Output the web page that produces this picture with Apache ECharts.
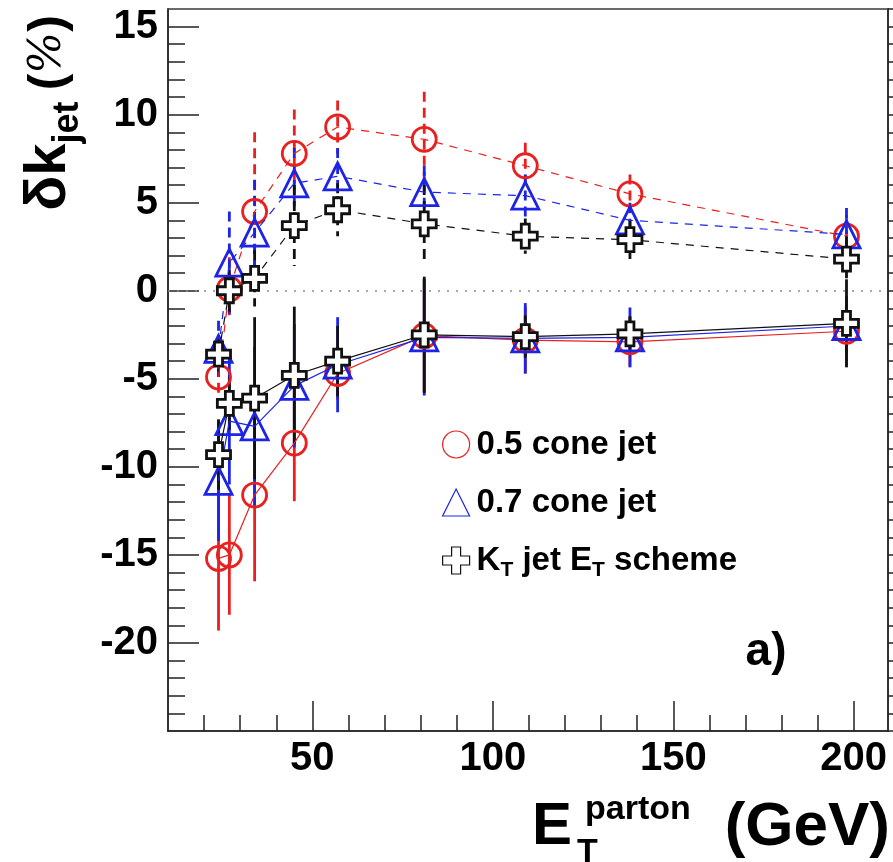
<!DOCTYPE html>
<html>
<head>
<meta charset="utf-8">
<script src="https://cdn.jsdelivr.net/npm/echarts@6/dist/echarts.min.js"></script>
<style>
  html, body { margin: 0; padding: 0; background: #ffffff; }
  #chart { width: 893px; height: 862px; }
</style>
</head>
<body>
<div id="chart"></div>
<script>
// Parton transverse energy of each bin (GeV)
const energies = [24, 27, 34, 45, 57, 81, 109, 138, 198];

// Upper branch (dashed curves), delta k_jet in %
const cone05Upper    = [-4.9, 0.1, 4.5, 7.8, 9.3, 8.6, 7.1, 5.5, 3.1];
const cone05UpperErr = [1.5, 1.8, 4.5, 2.5, 1.5, 2.7, 1.3, 1.1, 1.2];
const cone07Upper    = [-3.3, 1.6, 3.3, 6.1, 6.5, 5.6, 5.4, 4.0, 3.2];
const cone07UpperErr = [1.6, 2.9, 3.0, 2.0, 1.6, 1.5, 1.2, 1.0, 1.5];
const ktUpper        = [-3.6, 0.0, 0.7, 3.7, 4.6, 3.8, 3.1, 2.9, 1.8];
const ktUpperErr     = [1.0, 1.2, 1.6, 2.3, 1.5, 2.2, 1.0, 1.1, 1.3];

// Lower branch (solid curves), delta k_jet in %
const cone05Lower    = [-15.2, -15.0, -11.6, -8.65, -4.7, -2.55, -2.8, -2.9, -2.3];
const cone05LowerErr = [4.1, 3.4, 4.9, 3.3, 1.5, 3.2, 1.9, 1.4, 2.0];
const cone07Lower    = [-10.8, -7.4, -7.7, -5.4, -4.2, -2.65, -2.7, -2.65, -2.0];
const cone07LowerErr = [3.4, 3.6, 4.5, 3.5, 2.7, 3.3, 2.0, 1.7, 1.6];
const ktLower        = [-9.3, -6.4, -6.1, -4.8, -4.0, -2.5, -2.6, -2.45, -1.85];
const ktLowerErr     = [2.0, 1.5, 4.6, 3.9, 2.0, 3.3, 1.2, 1.0, 2.5];

// Axis ticks
const xMajorTicks = [50, 100, 150, 200];
const xMinorTicks = [20, 30, 40, 60, 70, 80, 90, 110, 120, 130, 140, 160, 170, 180, 190];
const yMajorTicks = [-20, -15, -10, -5, 0, 5, 10, 15];
const yMinorTicks = [-24, -23, -22, -21, -19, -18, -17, -16, -14, -13, -12, -11,
                     -9, -8, -7, -6, -4, -3, -2, -1, 1, 2, 3, 4, 6, 7, 8, 9,
                     11, 12, 13, 14];

const FONT = '"Liberation Sans", Arial, Helvetica, sans-serif';
const RED = '#e8201f';
const BLUE = '#1c24e6';
const BLACK = '#111111';
const CROSS = 'path://M-1,-3L1,-3L1,-1L3,-1L3,1L1,1L1,3L-1,3L-1,1L-3,1L-3,-1L-1,-1Z';

const jets = [
  { name: '0.5 cone jet', color: RED, symbol: 'circle', size: 24, fill: 'rgba(255,255,255,0)',
    upper: cone05Upper, upperErr: cone05UpperErr, lower: cone05Lower, lowerErr: cone05LowerErr, z: 3 },
  { name: '0.7 cone jet', color: BLUE, symbol: 'triangle', size: 27, fill: 'rgba(255,255,255,0)',
    upper: cone07Upper, upperErr: cone07UpperErr, lower: cone07Lower, lowerErr: cone07LowerErr, z: 4 },
  { name: 'KT jet ET scheme', color: BLACK, symbol: CROSS, size: 24, fill: '#ffffff',
    upper: ktUpper, upperErr: ktUpperErr, lower: ktLower, lowerErr: ktLowerErr, z: 5 }
];

function points(vals) { return energies.map((e, i) => [e, vals[i]]); }
function withErrors(vals, errs) { return energies.map((e, i) => [e, vals[i], errs[i]]); }

function errorBars(name, data, color, dashed, z) {
  return {
    type: 'custom', name: name, data: data, z: z, silent: true,
    encode: { x: 0, y: 1 },
    renderItem: function (params, api) {
      const x = api.value(0), y = api.value(1), e = api.value(2);
      const top = api.coord([x, y + e]);
      const bot = api.coord([x, y - e]);
      return {
        type: 'line',
        shape: { x1: top[0], y1: top[1], x2: bot[0], y2: bot[1] },
        style: { stroke: color, lineWidth: 2.8, lineDash: dashed ? [10, 6] : null }
      };
    }
  };
}

const series = [];
jets.forEach(j => {
  [['upper', true], ['lower', false]].forEach(([branch, dashed]) => {
    series.push(errorBars(j.name, withErrors(j[branch], j[branch + 'Err']), j.color, dashed, j.z));
    series.push({
      type: 'line', name: j.name, data: points(j[branch]), z: j.z + 10,
      symbol: j.symbol, symbolSize: j.size, showAllSymbol: true,
      itemStyle: { color: j.fill, borderColor: j.color, borderWidth: 2.8 },
      lineStyle: { color: j.color, width: 1.2, type: dashed ? [8, 7] : 'solid' },
      emphasis: { disabled: true }
    });
  });
});

// dotted zero reference line
series.push({
  type: 'line', data: [], silent: true,
  markLine: {
    silent: true, symbol: 'none', label: { show: false },
    lineStyle: { color: '#8a8a8a', type: [2, 7], width: 1.6 },
    data: [{ yAxis: 0 }]
  }
});

const chart = echarts.init(document.getElementById('chart'), null, { renderer: 'canvas' });
chart.setOption({
  animation: false,
  backgroundColor: '#ffffff',
  grid: { left: 168, right: 5, top: 9, bottom: 131, show: true, borderColor: '#3a3a3a', borderWidth: 1.5 },
  xAxis: [
    {
      type: 'value', min: 10, max: 209.5, position: 'bottom',
      axisLine: { show: true, onZero: false, lineStyle: { color: '#222', width: 1.5 } },
      axisTick: { show: true, inside: true, length: 30, customValues: xMajorTicks, lineStyle: { color: '#222', width: 1.5 } },
      axisLabel: { show: true, customValues: xMajorTicks, fontFamily: FONT, fontWeight: 'bold', fontSize: 40, color: '#000', margin: 8 },
      splitLine: { show: false }
    },
    {
      type: 'value', min: 10, max: 209.5, position: 'bottom', offset: 0,
      axisLine: { show: false, onZero: false },
      axisTick: { show: true, inside: true, length: 16, customValues: xMinorTicks, lineStyle: { color: '#222', width: 1.5 } },
      axisLabel: { show: false },
      splitLine: { show: false }
    }
  ],
  yAxis: [
    {
      type: 'value', min: -25, max: 16, position: 'left',
      axisLine: { show: true, onZero: false, lineStyle: { color: '#222', width: 1.5 } },
      axisTick: { show: true, inside: true, length: 31, customValues: yMajorTicks, lineStyle: { color: '#222', width: 1.5 } },
      axisLabel: { show: true, customValues: yMajorTicks, fontFamily: FONT, fontWeight: 'bold', fontSize: 40, color: '#000', margin: 10 },
      splitLine: { show: false }
    },
    {
      type: 'value', min: -25, max: 16, position: 'left', offset: 0,
      axisLine: { show: false, onZero: false },
      axisTick: { show: true, inside: true, length: 17, customValues: yMinorTicks, lineStyle: { color: '#222', width: 1.5 } },
      axisLabel: { show: false },
      splitLine: { show: false }
    },
    {
      type: 'value', min: -25, max: 16, interval: 1, position: 'right', offset: 0,
      axisLine: { show: true, onZero: false, lineStyle: { color: '#222', width: 1.5 } },
      axisTick: { show: true, inside: false, length: 5, lineStyle: { color: '#222', width: 1.5 } },
      axisLabel: { show: false },
      splitLine: { show: false }
    }
  ],
  legend: {
    orient: 'vertical', left: 437, top: 419, itemWidth: 27, itemHeight: 27, itemGap: 17,
    selectedMode: false,
    textStyle: {
      fontFamily: FONT, fontWeight: 'bold', fontSize: 33, color: '#000', lineHeight: 41,
      padding: [0, 0, 0, 2],
      rich: { s: { fontFamily: FONT, fontWeight: 'bold', fontSize: 21, color: '#000', lineHeight: 12, verticalAlign: 'bottom' } }
    },
    formatter: name => name === 'KT jet ET scheme' ? 'K{s|T} jet E{s|T} scheme' : name,
    data: [
      { name: '0.5 cone jet', icon: 'circle', itemStyle: { color: 'rgba(255,255,255,0)', borderColor: RED, borderWidth: 1.2 } },
      { name: '0.7 cone jet', icon: 'triangle', itemStyle: { color: 'rgba(255,255,255,0)', borderColor: BLUE, borderWidth: 1.2 } },
      { name: 'KT jet ET scheme', icon: CROSS, itemStyle: { color: 'rgba(255,255,255,0)', borderColor: BLACK, borderWidth: 1.2 } }
    ]
  },
  graphic: [
    {
      type: 'text', x: 49, y: 113, rotation: Math.PI / 2,
      style: {
        text: '{a|δk}{b|jet}{g| }{p|(}{c|%}{p|)}',
        align: 'center', verticalAlign: 'middle',
        rich: {
          a: { fontFamily: FONT, fontWeight: 'bold', fontSize: 58, lineHeight: 74, fill: '#000' },
          b: { fontFamily: FONT, fontWeight: 'bold', fontSize: 36, lineHeight: 20, verticalAlign: 'bottom', fill: '#000' },
          g: { fontFamily: FONT, fontSize: 40, lineHeight: 74, fill: '#000' },
          p: { fontFamily: FONT, fontWeight: 'bold', fontSize: 50, lineHeight: 74, fill: '#000' },
          c: { fontFamily: '"DejaVu Serif", serif', fontStyle: 'italic', fontSize: 44, lineHeight: 74, fill: '#000' }
        }
      }
    },
    { type: 'text', x: 532, y: 797, style: { text: 'E', font: 'bold 60px ' + FONT, fill: '#000' } },
    { type: 'text', x: 577, y: 836, style: { text: 'T', font: 'bold 34px ' + FONT, fill: '#000' } },
    { type: 'text', x: 585, y: 793, style: { text: 'parton', font: 'bold 34px ' + FONT, fill: '#000' } },
    { type: 'text', x: 890, y: 797, style: { text: '(GeV)', font: 'bold 62px ' + FONT, fill: '#000', align: 'right' } },
    { type: 'text', x: 766, y: 652, style: { text: 'a)', font: 'bold 46px ' + FONT, fill: '#000', align: 'center', verticalAlign: 'middle' } }
  ],
  series: series
});
</script>
</body>
</html>
